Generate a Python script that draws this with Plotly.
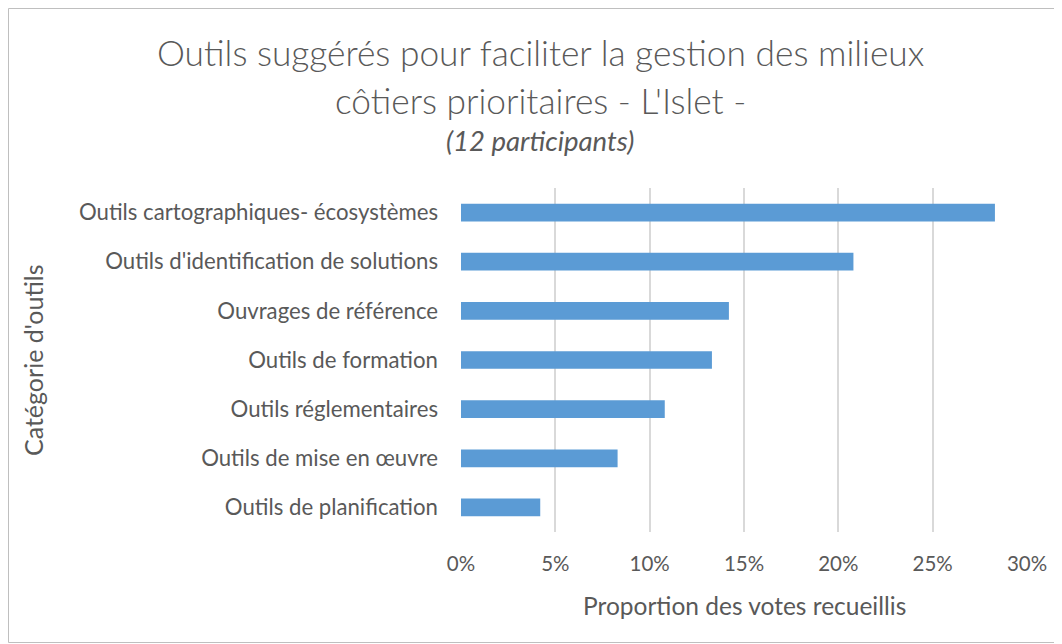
import plotly.graph_objects as go

categories = [
    "Outils cartographiques- écosystèmes",
    "Outils d'identification de solutions",
    "Ouvrages de référence",
    "Outils de formation",
    "Outils réglementaires",
    "Outils de mise en œuvre",
    "Outils de planification",
]
values = [0.283, 0.208, 0.142, 0.133, 0.108, 0.083, 0.042]
x_ticks = [0, 0.05, 0.10, 0.15, 0.20, 0.25, 0.30]
x_tick_labels = ["0%", "5%", "10%", "15%", "20%", "25%", "30%"]

# page has an 8px body margin: figure coords = page coords - 8
OFF = 8
W, H = 1062 - OFF, 644 - OFF
L, R, T, B = 461 - OFF, 35, 188 - OFF, 112
pw = W - L - R
ph = H - T - B
FONT = "Lato"
GREY = "#595959"

fig = go.Figure(go.Bar(
    x=values, y=categories, orientation="h",
    marker=dict(color="#5b9bd5", line=dict(width=0)),
    width=0.36,
))

fig.update_layout(
    width=W, height=H,
    margin=dict(l=L, r=R, t=T, b=B),
    paper_bgcolor="white", plot_bgcolor="white",
    font=dict(family=FONT, color=GREY, size=21),
    showlegend=False,
    xaxis=dict(range=[0, 0.30], tickvals=x_ticks, ticktext=x_tick_labels,
               showgrid=True, gridcolor="#d9d9d9", gridwidth=1.5,
               zeroline=False, showline=False, ticks="",
               ticklabelstandoff=17,
               tickfont=dict(size=20.5, color=GREY)),
    yaxis=dict(autorange="reversed", showgrid=False, zeroline=False,
               showline=False, ticks="", ticklabelstandoff=22,
               tickfont=dict(size=22.2, color=GREY)),
)

def px(x):
    return (x - OFF - L) / pw

def py(y):
    return 1 - (y - OFF - T) / ph

fig.add_annotation(text="Outils suggérés pour faciliter la gestion des milieux",
                   x=px(540), y=py(52), xref="paper", yref="paper",
                   showarrow=False,
                   font=dict(size=35.3, color=GREY, family=FONT, weight=300),
                   xanchor="center", yanchor="middle")
fig.add_annotation(text="côtiers prioritaires - L'Islet -",
                   x=px(540), y=py(100), xref="paper", yref="paper",
                   showarrow=False,
                   font=dict(size=35.3, color=GREY, family=FONT, weight=300),
                   xanchor="center", yanchor="middle")
fig.add_annotation(text="<i>(12 participants)</i>",
                   x=px(540), y=py(140), xref="paper", yref="paper",
                   showarrow=False, font=dict(size=27.5, color=GREY, family=FONT),
                   xanchor="center", yanchor="middle")
fig.add_annotation(text="Proportion des votes recueillis",
                   x=px(744), y=py(605), xref="paper", yref="paper",
                   showarrow=False, font=dict(size=24.5, color=GREY, family=FONT),
                   xanchor="center", yanchor="middle")
fig.add_annotation(text="Catégorie d'outils", textangle=-90,
                   x=px(33), y=py(360), xref="paper", yref="paper",
                   showarrow=False, font=dict(size=25, color=GREY, family=FONT),
                   xanchor="center", yanchor="middle")

fig.add_shape(type="rect", xref="paper", yref="paper",
              x0=px(8.5), x1=px(1060.5), y0=py(8.5), y1=py(642.5),
              line=dict(color="#bfbfbf", width=1), layer="below")

fig.write_html("out.html")
